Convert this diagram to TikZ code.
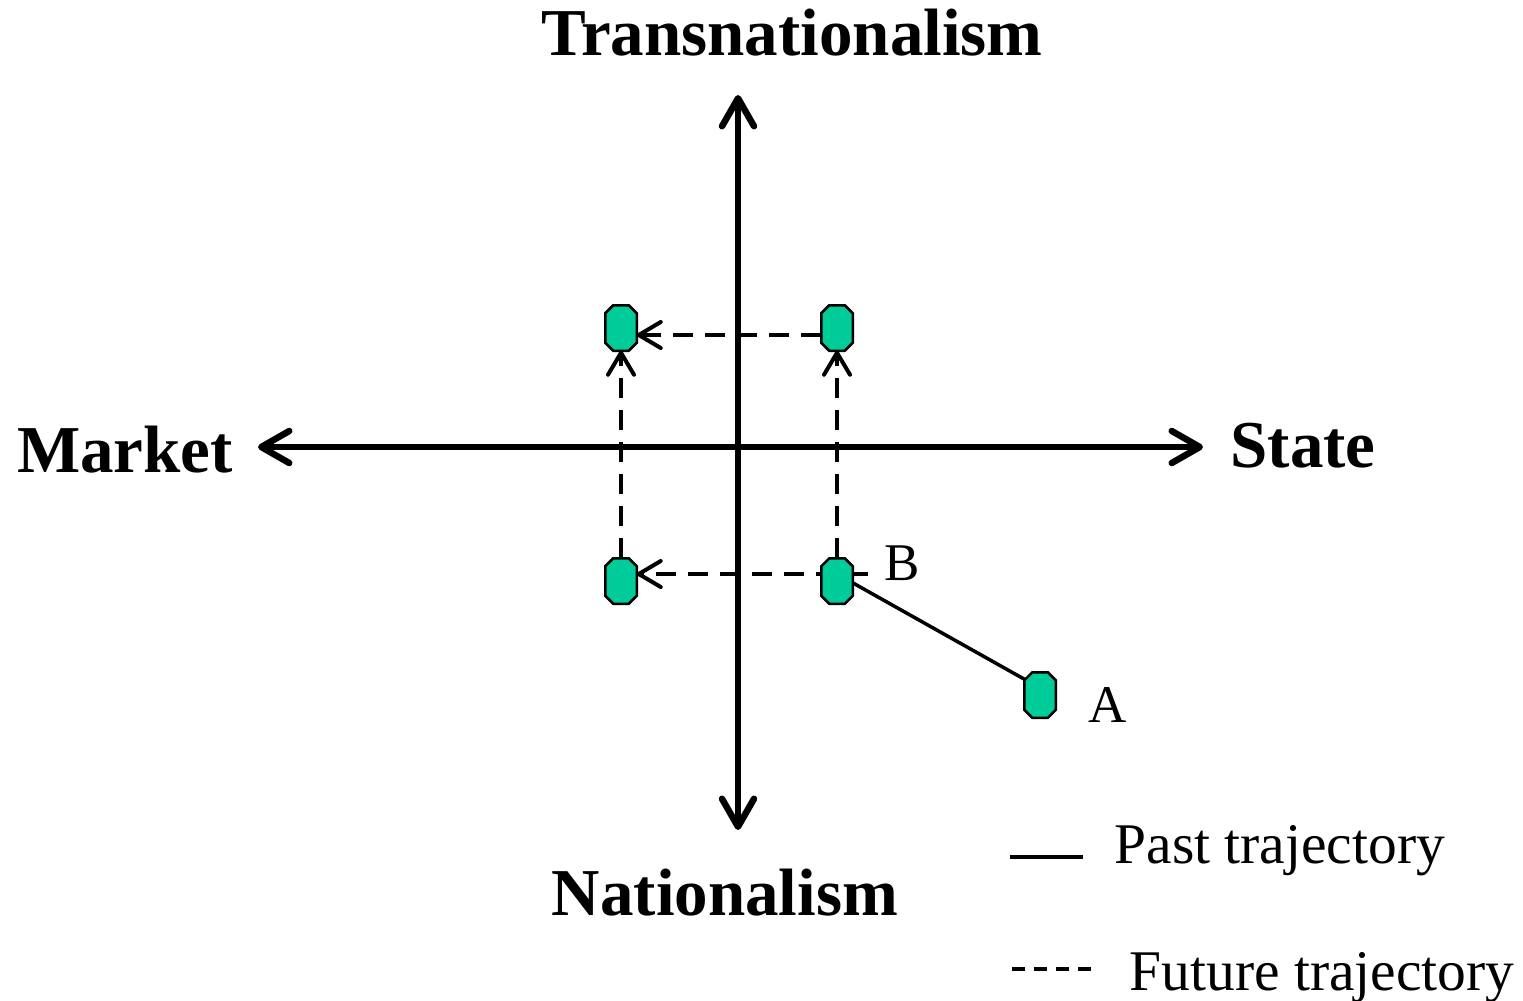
\documentclass[tikz,border=0pt]{standalone}
\usepackage{fontspec}
\setmainfont{Liberation Serif}
\usetikzlibrary{arrows.meta,backgrounds}
\definecolor{nodegreen}{RGB}{0,204,153}
\makeatletter
\newdimen\octXa \newdimen\octXb \newdimen\octXc \newdimen\octXd
\newdimen\octYa \newdimen\octYb \newdimen\octYc \newdimen\octYd
\pgfdeclareshape{octbox}{%
  \inheritsavedanchors[from=rectangle]%
  \inheritanchorborder[from=rectangle]%
  \inheritanchor[from=rectangle]{center}%
  \inheritanchor[from=rectangle]{north}%
  \inheritanchor[from=rectangle]{south}%
  \inheritanchor[from=rectangle]{east}%
  \inheritanchor[from=rectangle]{west}%
  \inheritanchor[from=rectangle]{north east}%
  \inheritanchor[from=rectangle]{north west}%
  \inheritanchor[from=rectangle]{south east}%
  \inheritanchor[from=rectangle]{south west}%
  \backgroundpath{%
    \southwest \octXa=\pgf@x \octYa=\pgf@y
    \northeast \octXd=\pgf@x \octYd=\pgf@y
    \octXb=\octXa \advance\octXb by 8pt
    \octXc=\octXd \advance\octXc by -8pt
    \octYb=\octYa \advance\octYb by 8pt
    \octYc=\octYd \advance\octYc by -8pt
    \pgfpathmoveto{\pgfqpoint{\octXb}{\octYa}}%
    \pgfpathlineto{\pgfqpoint{\octXc}{\octYa}}%
    \pgfpathlineto{\pgfqpoint{\octXd}{\octYb}}%
    \pgfpathlineto{\pgfqpoint{\octXd}{\octYc}}%
    \pgfpathlineto{\pgfqpoint{\octXc}{\octYd}}%
    \pgfpathlineto{\pgfqpoint{\octXb}{\octYd}}%
    \pgfpathlineto{\pgfqpoint{\octXa}{\octYc}}%
    \pgfpathlineto{\pgfqpoint{\octXa}{\octYb}}%
    \pgfpathclose
  }%
}
\makeatother
\begin{document}
\begin{tikzpicture}[x=1pt,y=-1pt,
  axis/.style={line width=6.5pt,line cap=round,
    {Straight Barb[length=28pt,width=32pt,line cap=round,line join=round]}-{Straight Barb[length=28pt,width=32pt,line cap=round,line join=round]}},
  future/.style={line width=4pt,dash pattern=on 20pt off 12pt,
    -{Straight Barb[length=22pt,width=26pt,line cap=round,line join=round]}},
  past/.style={line width=3.5pt},
  point/.style={octbox,minimum width=29pt,minimum height=43pt,inner sep=0pt,
    fill=nodegreen,draw=black,line width=2.5pt,line join=miter},
  bigbold/.style={font=\fontsize{67}{71}\selectfont\bfseries},
  label/.style={font=\fontsize{53}{57}\selectfont},
  legend/.style={font=\fontsize{57.5}{61}\selectfont}]
\useasboundingbox (0,0) rectangle (1523,1001);

% axes
\coordinate (xl) at (258,447);
\coordinate (xr) at (1203,447);
\coordinate (yt) at (738,95);
\coordinate (yb) at (738,830);
\draw[axis] (xl) -- (xr);
\draw[axis] (yt) -- (yb);

% axis labels
\node[bigbold,anchor=base] (trans) at (792,55) {Transnationalism};
\node[bigbold,anchor=base] (nat) at (725,915) {Nationalism};
\node[bigbold,anchor=base] (market) at (125,472) {Market};
\node[bigbold,anchor=base] (state) at (1303,467) {State};

% points
\node[point] (tl) at (621,328) {};
\node[point] (tr) at (837,328) {};
\node[point] (bl) at (621,581) {};
\node[point] (B) at (837,581) {};
\node[point] (A) at (1040,695) {};

\node[label,anchor=base west] (Blab) at (881,580) {B};
\node[label,anchor=base west] (Alab) at (1085,722) {A};

% trajectories
\begin{scope}[on background layer]
\draw[past] ([yshift=7pt]A.center) -- ([yshift=7pt]B.center);
\draw[future] ([xshift=15pt,yshift=7pt]B.east) -- ([yshift=7pt]bl.east);
\end{scope}
\draw[future] ([yshift=-7pt]tr.west) -- ([yshift=-7pt]tl.east);
\draw[future] (bl.north) -- (tl.south);
\draw[future] (B.north) -- (tr.south);

% legend
\coordinate (l1a) at (1010,857);
\coordinate (l1b) at (1083,857);
\coordinate (l2a) at (1012,969);
\coordinate (l2b) at (1092,969);
\draw[line width=4pt] (l1a) -- (l1b);
\draw[line width=4pt,dash pattern=on 13pt off 9pt] (l2a) -- (l2b);
\node[legend,anchor=base west] (pastlab) at (1111,863) {Past trajectory};
\node[legend,anchor=base west] (futlab) at (1126,990) {Future trajectory};
\end{tikzpicture}
\end{document}
